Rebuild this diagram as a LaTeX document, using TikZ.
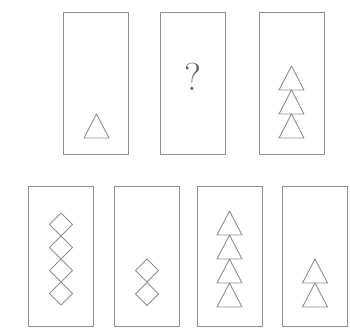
\documentclass[tikz,border=0pt]{standalone}
\usepackage{xcolor}
\usepackage{tikz}
\usetikzlibrary{positioning}
\definecolor{LineGray}{HTML}{8E8E8E}

\newcommand{\tri}[2]{\draw[fig] (#1-12.5,#2) -- (#1+12.5,#2) -- (#1,#2-24) -- cycle;}
\newcommand{\dia}[2]{\draw[fig] (#1,#2) -- (#1+11.5,#2+11.5) -- (#1,#2+23) -- (#1-11.5,#2+11.5) -- cycle;}

\begin{document}
\begin{tikzpicture}[
            x=1pt, y=-1pt,
            card/.style={draw=LineGray, line width=0.9pt, minimum width=65pt, minimum height=142pt, inner sep=0pt},
            lowcard/.style={card, minimum height=140pt},
            fig/.style={draw=LineGray, line width=0.9pt, line join=round},
            qmark/.style={text=LineGray!70!black, inner sep=0pt, font=\fontsize{39}{39}\selectfont}
        ]
            \useasboundingbox (0,0) rectangle (350,334);

            % question row
            \node[card] (first) at (96,83.5) {};
            \node[card] (blank) at (192.5,83) {};
            \node[card] (third) at (291.5,83) {};
            \node[qmark] (ask) at (blank.center) [yshift=6.5pt] {?};

            \tri{96.5}{138}
            \foreach \b in {138,114,90} {\tri{291.5}{\b}}

            % answer row
            \node[lowcard] (optA) at (61,256) {};
            \node[lowcard] (optB) at (146.5,256) {};
            \node[lowcard] (optC) at (229.5,256) {};
            \node[lowcard] (optD) at (314.5,256) {};

            \foreach \t in {213,236,259,282} {\dia{61}{\t}}
            \foreach \t in {259,282.5} {\dia{147}{\t}}
            \foreach \b in {307,283,259,235} {\tri{229.5}{\b}}
            \foreach \b in {307,283} {\tri{315}{\b}}

        \end{tikzpicture}
\end{document}
